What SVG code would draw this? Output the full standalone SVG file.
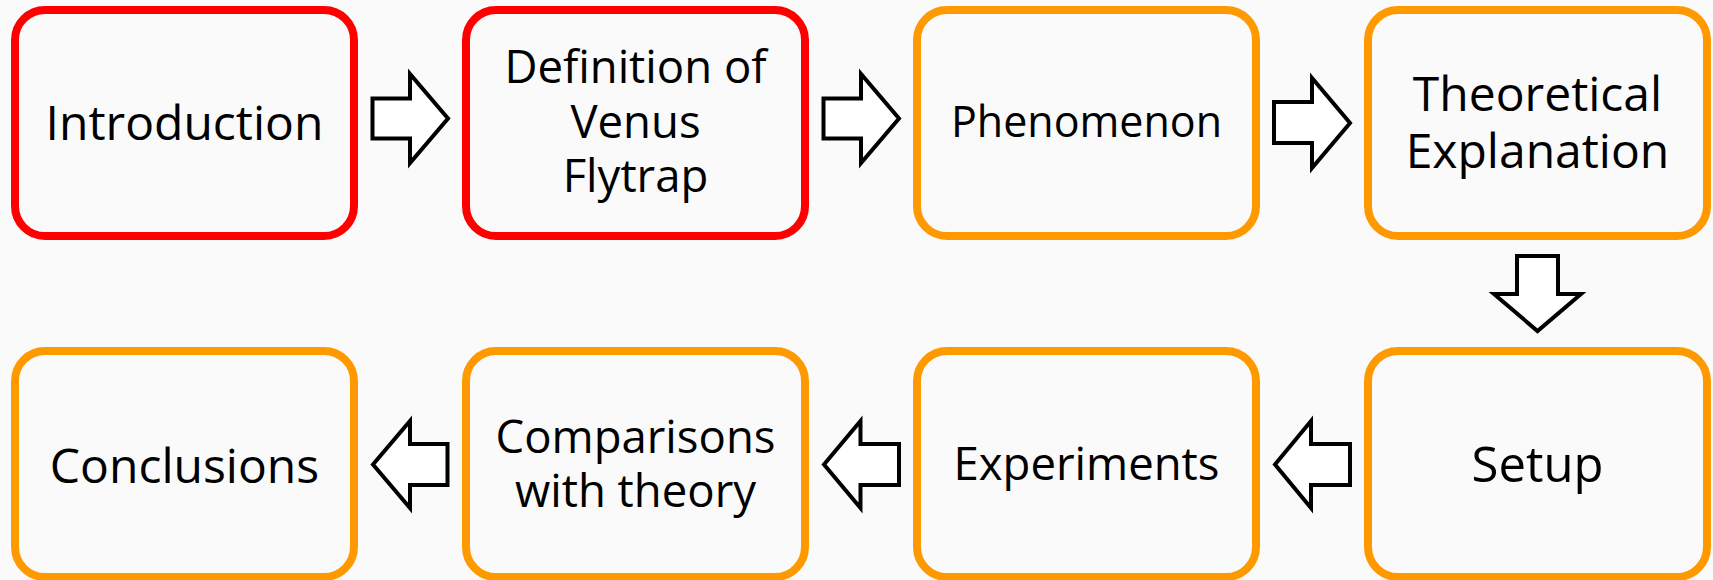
<svg xmlns="http://www.w3.org/2000/svg" width="1713" height="580" viewBox="0 0 1713 580">
<style>
.bg{fill:#fafafa}
.node{fill:#fafafa;stroke-width:8}
.red{stroke:#ff0000}
.orange{stroke:#ff9900}
.lbl{font-family:"Open Sans","Noto Sans",sans-serif;fill:#000;text-anchor:middle}
.arr{fill:#ffffff;stroke:#000;stroke-width:4;stroke-linejoin:miter}
</style>
<rect class="bg" x="0" y="0" width="1713" height="580"/>
<g id="n1"><rect class="node red" x="15" y="10" width="339" height="226" rx="30"/><text class="lbl" x="184.5" y="140" font-size="48">Introduction</text></g>
<g id="n2"><rect class="node red" x="466" y="10" width="339" height="226" rx="30"/><text class="lbl" x="635.5" font-size="45.5"><tspan x="635.5" y="83">Definition of</tspan><tspan x="635.5" y="138">Venus</tspan><tspan x="635.5" y="192">Flytrap</tspan></text></g>
<g id="n3"><rect class="node orange" x="917" y="10" width="339" height="226" rx="30"/><text class="lbl" x="1086.5" y="137" font-size="43">Phenomenon</text></g>
<g id="n4"><rect class="node orange" x="1368" y="10" width="339" height="226" rx="30"/><text class="lbl" font-size="48"><tspan x="1537.5" y="111">Theoretical</tspan><tspan x="1537.5" y="168">Explanation</tspan></text></g>
<g id="n5"><rect class="node orange" x="1368" y="351" width="339" height="226" rx="30"/><text class="lbl" x="1537.5" y="482" font-size="49">Setup</text></g>
<g id="n6"><rect class="node orange" x="917" y="351" width="339" height="226" rx="30"/><text class="lbl" x="1086.5" y="480" font-size="45.5">Experiments</text></g>
<g id="n7"><rect class="node orange" x="466" y="351" width="339" height="226" rx="30"/><text class="lbl" font-size="45.5"><tspan x="635.5" y="453">Comparisons</tspan><tspan x="635.5" y="507">with theory</tspan></text></g>
<g id="n8"><rect class="node orange" x="15" y="351" width="339" height="226" rx="30"/><text class="lbl" x="184.5" y="482.5" font-size="48">Conclusions</text></g>
<g id="connectors">
<polygon class="arr" points="372.5,98.5 410,98.5 410,74 448,118.5 410,163 410,138.5 372.5,138.5"/>
<polygon class="arr" points="823.5,98.5 861,98.5 861,74 899,118.5 861,163 861,138.5 823.5,138.5"/>
<polygon class="arr" points="1274,102 1312,102 1312,78 1350,123 1312,168 1312,143 1274,143"/>
<polygon class="arr" points="1517,256 1558,256 1558,294 1581,294 1537.5,331 1494,294 1517,294"/>
<polygon class="arr" points="1350,444 1311,444 1311,421 1275,464.5 1311,508 1311,485 1350,485"/>
<polygon class="arr" points="899,444 860.5,444 860.5,421 824,464.5 860.5,508 860.5,485 899,485"/>
<polygon class="arr" points="447.5,444 410,444 410,421 373,464.5 410,508 410,485 447.5,485"/>
</g>
</svg>
